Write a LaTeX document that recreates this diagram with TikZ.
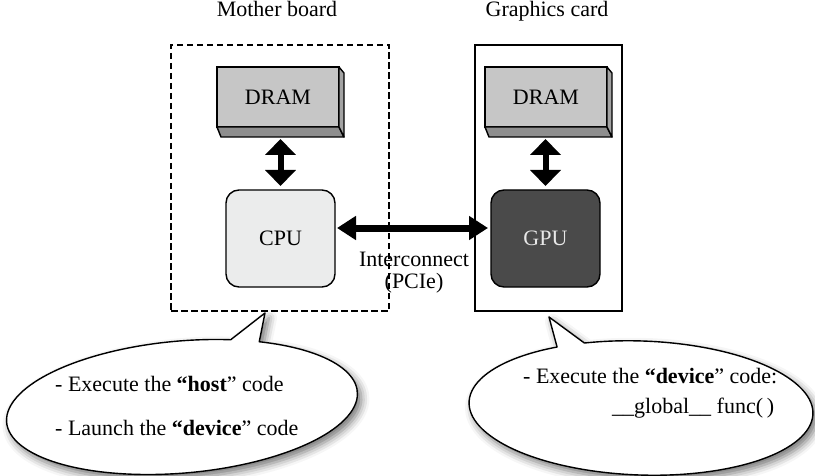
\documentclass[tikz,border=0pt]{standalone}
\usepackage{fontspec}
\setmainfont{Liberation Serif}
\usetikzlibrary{arrows.meta,calc,shadows.blur}
\definecolor{dramface}{HTML}{C6C6C6}
\definecolor{dramside}{HTML}{A3A3A3}
\definecolor{dramfloor}{HTML}{8E8E8E}
\definecolor{cpufill}{HTML}{EBECEC}
\definecolor{gpufill}{HTML}{4A4A4A}
\definecolor{gputext}{HTML}{E8E8E8}
% extruded lower and right faces of a memory chip node
\newcommand\chipedge[1]{%
  \filldraw[fill=dramfloor, line width=1.4pt, line join=round]
    (#1.south west) -- ++(4,-10) -- ($(#1.south east)+(5,-10)$) -- (#1.south east) -- cycle;
  \filldraw[fill=dramside, line width=1.4pt, line join=round]
    (#1.north east) -- ++(5,-6) -- ($(#1.south east)+(5,-10)$) -- (#1.south east) -- cycle;}
\begin{document}
\begin{tikzpicture}[x=1pt,y=1pt,
  txt/.style={font=\fontsize{22pt}{22pt}\selectfont, inner sep=0pt},
  frame/.style={draw, line width=1.4pt, inner sep=0pt, outer sep=0pt},
  memchip/.style={draw, line width=1.4pt, fill=dramface, minimum width=122pt, minimum height=60pt,
    inner sep=0pt, outer sep=0pt, font=\fontsize{22pt}{22pt}\selectfont},
  proc/.style={draw, line width=1.4pt, rounded corners=13pt, minimum width=109pt, minimum height=97pt,
    inner sep=0pt, outer sep=0pt, font=\fontsize{22pt}{22pt}\selectfont},
  vlink/.style={line width=6pt, {Triangle[width=30pt,length=16pt]}-{Triangle[width=30pt,length=16pt]}},
  hlink/.style={line width=7pt, {Triangle[width=23pt,length=19pt]}-{Triangle[width=23pt,length=19pt]}},
  bubble/.style={draw, line width=1.4pt, fill=white, line join=round,
    blur shadow={shadow xshift=4pt, shadow yshift=-5pt, shadow blur radius=8pt, shadow opacity=55}},
]
\useasboundingbox (0,0) rectangle (815,475);

% boards
\node[frame, dash pattern=on 6.5pt off 3.5pt, line width=1.6pt, minimum width=218pt, minimum height=266pt] (mb) at (280,297) {};
\node[frame, line width=1.2pt, minimum width=147pt, minimum height=266pt] (gc) at (548.5,297) {};
\node[txt, anchor=base] (mbl) at (277,458) {Mother board};
\node[txt, anchor=base] (gcl) at (547,458) {Graphics card};

% memories
\node[memchip] (dram1) at (278,378) {DRAM};
\node[memchip] (dram2) at (546,378) {DRAM};
\chipedge{dram1}
\chipedge{dram2}

% processors
\node[proc, fill=cpufill] (cpu) at (280.5,236.5) {CPU};
\node[proc, fill=gpufill, text=gputext] (gpu) at (545.5,236.5) {GPU};

% links
\draw[vlink, shorten <=4pt, shorten >=12pt] (cpu.north) -- (cpu.north |- dram1.south);
\draw[vlink, shorten <=4pt, shorten >=12pt] (gpu.north) -- (gpu.north |- dram2.south);
\draw[hlink, shorten <=2pt, shorten >=3pt] ($(cpu.east)+(0,10.5)$) -- ($(gpu.west)+(0,10.5)$);
\node[txt, align=center] (ic) at (414,202) {Interconnect\\(PCIe)};

% callouts
\coordinate (tipL) at (265,162);
\coordinate (tipR) at (549,158);
\begin{scope}[shift={(182,68)}, rotate=5]
  \path[bubble] (72:176 and 66) arc[start angle=72, end angle=422, x radius=176, y radius=66] -- (tipL) -- cycle;
\end{scope}
\begin{scope}[shift={(641,67)}, rotate=-2]
  \path[bubble] (120:172 and 67) arc[start angle=120, end angle=470, x radius=172, y radius=67] -- (tipR) -- cycle;
\end{scope}

\node[txt, anchor=base west] (h1) at (55,84) {- Execute the \textbf{“host}” code};
\node[txt, anchor=base west] (h2) at (55,40) {- Launch the \textbf{“device}” code};
\node[txt, anchor=base west] (d1) at (523,92) {- Execute the \textbf{“device}” code:};
\node[txt, anchor=base west] (d2) at (612,62) {\_\_global\_\_ func(\,)};
\end{tikzpicture}
\end{document}
